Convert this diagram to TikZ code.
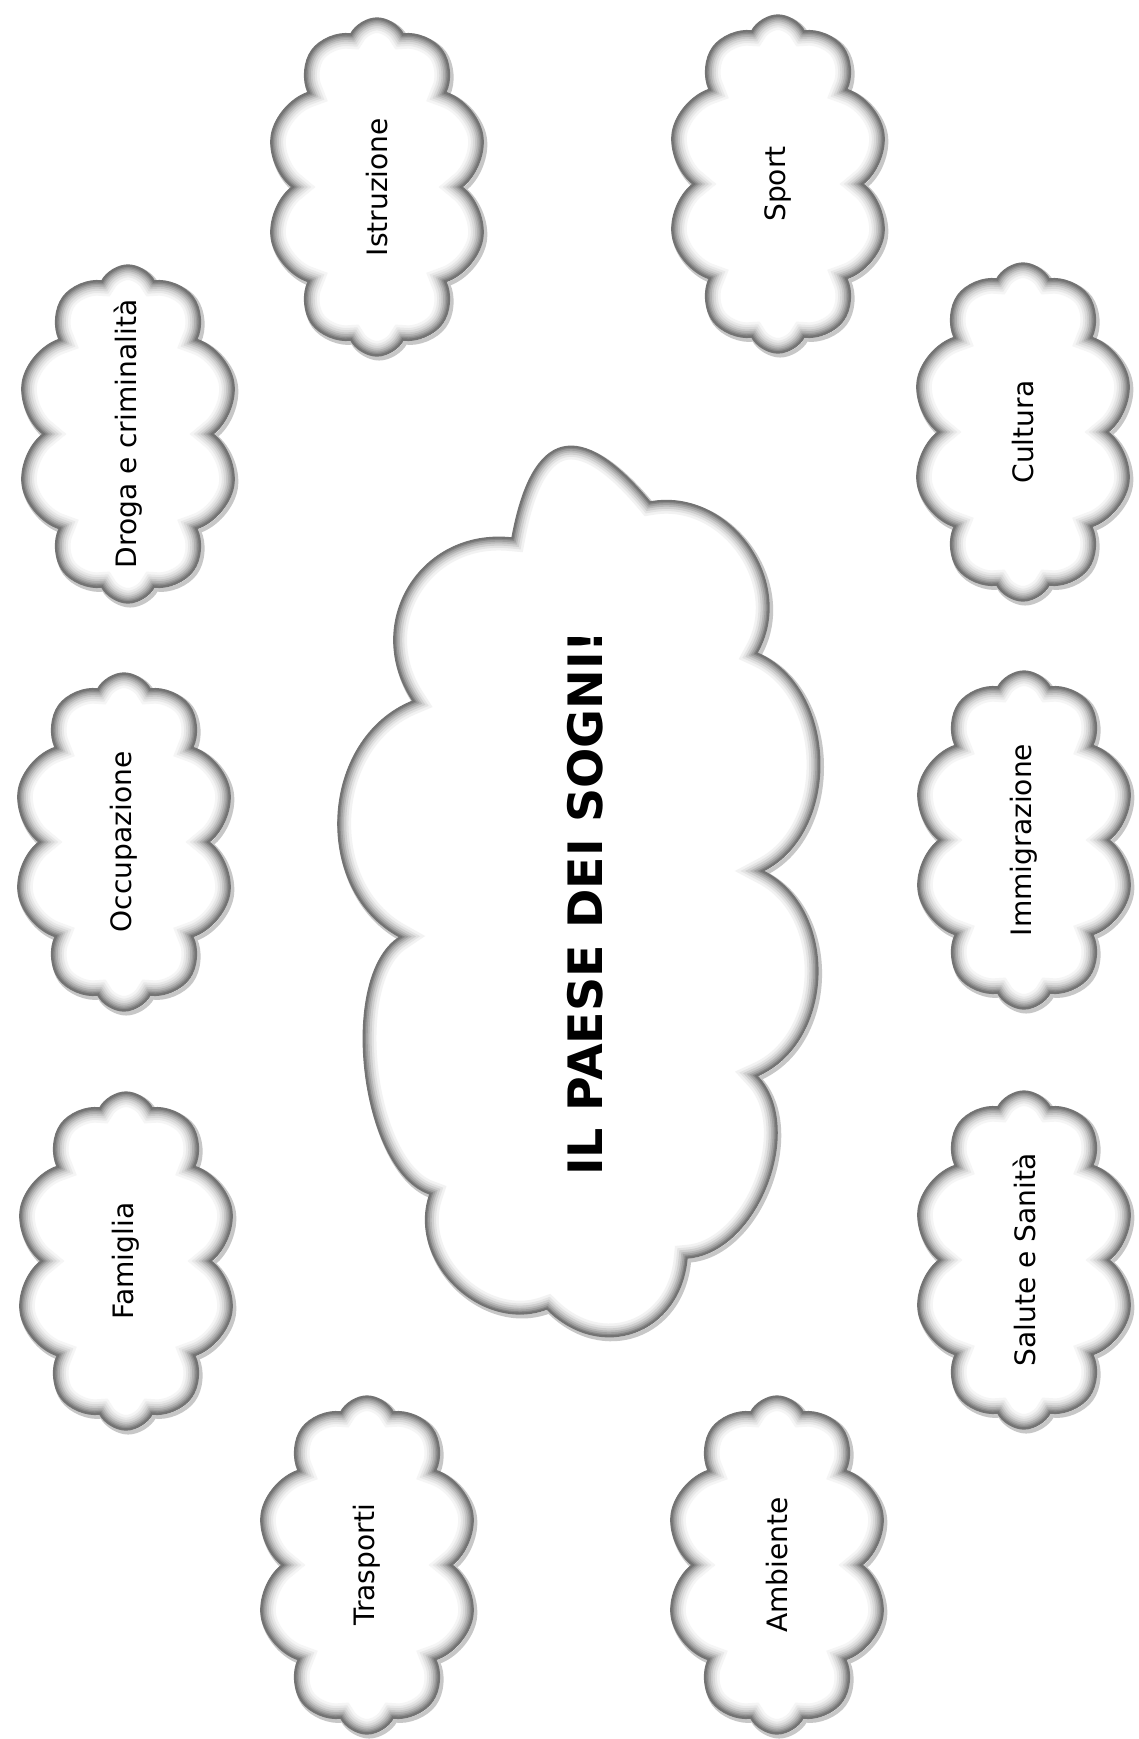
\documentclass[tikz,border=0pt]{standalone}
\usepackage{fontspec}
\setmainfont{DejaVu Sans}
\usetikzlibrary{shapes.symbols}
\tikzset{
  puff/.style={cloud, cloud ignores aspect, inner sep=0pt, outer sep=0pt},
  shade off/.style={draw=black!22, line width=2.4pt, transform canvas={shift={(1.2pt,-1.4pt)}}},
  bubble/.style n args={4}{puff, cloud puffs=#1, cloud puff arc=#2, minimum width=#3, minimum height=#4,
              fill=white, draw=black!55, line width=0.8pt, preaction={shade off},
              path picture={
                \foreach \w/\g in {17/4,14/9,11.5/15,9/22,7/30,5/38,3.5/46,2/54}
                  \node[puff, cloud puffs=#1, cloud puff arc=#2, minimum width=#3, minimum height=#4,
                        draw=black!\g, line width=\w pt] at (path picture bounding box.center) {};
              }},
  small/.style={bubble={10}{125}{4.44cm}{6.76cm}},
  bump/.style={bend left=65, looseness=#1},
  dreamcloud/.style={insert path={(v1) to[bump=1.24] (v2) to[bump=1.98] (v3) to[bump=1.12] (v4)
              to[bump=1.03] (v5) to[bump=1.06] (v6) to[bump=0.93] (v7) to[bump=1.31] (v8)
              to[bump=1.1] (v9) to[bump=0.73] (v10) to[bump=1.09] (v1) -- cycle}},
  lbl/.style={rotate=90, font=\fontsize{16}{19}\selectfont},
  headline/.style={rotate=90, font=\fontsize{27}{32}\selectfont\bfseries},
}
\begin{document}
\begin{tikzpicture}[x=0.02cm, y=-0.02cm]
    \useasboundingbox[fill=white] (0,0) rectangle (1139,1739);
    % big central cloud
    \coordinate (v1) at (413,701);
    \coordinate (v2) at (512,538);
    \coordinate (v3) at (650,502);
    \coordinate (v4) at (757,653);
    \coordinate (v5) at (763,871);
    \coordinate (v6) at (757,1076);
    \coordinate (v7) at (687,1258);
    \coordinate (v8) at (547,1309);
    \coordinate (v9) at (430,1194);
    \coordinate (v10) at (400,937);
    \draw[shade off, dreamcloud];
    \begin{scope}
      \clip[dreamcloud];
      \fill[white, dreamcloud];
      \foreach \w/\g in {15/5,12/11,9.5/19,7/28,5/37,3/47,1.6/55}
        \draw[black!\g, line width=\w pt, dreamcloud];
    \end{scope}
    \draw[black!55, line width=0.8pt, line join=round, dreamcloud];
    \node[headline] (sogni) at (585,903) {IL PAESE DEI SOGNI!};
    % the ten themes
    \node[small] (istr) at (377,187) {};
    \node[lbl] (istr-t) at (istr.center) {Istruzione};
    \node[small] (sport) at (778,184) {};
    \node[lbl] (sport-t) at (sport.center) {Sport};
    \node[small] (droga) at (128,434) {};
    \node[lbl] (droga-t) at (droga.center) {Droga e criminalità};
    \node[small] (cult) at (1023,432) {};
    \node[lbl] (cult-t) at (cult.center) {Cultura};
    \node[small] (occ) at (124,842) {};
    \node[lbl] (occ-t) at (occ.center) {Occupazione};
    \node[small] (immi) at (1024,840) {};
    \node[lbl] (immi-t) at (immi.center) {Immigrazione};
    \node[small] (fam) at (126,1261) {};
    \node[lbl] (fam-t) at (fam.center) {Famiglia};
    \node[small] (salute) at (1024,1260) {};
    \node[lbl] (salute-t) at (salute.center) {Salute e Sanità};
    \node[small] (trasp) at (367,1565) {};
    \node[lbl] (trasp-t) at (trasp.center) {Trasporti};
    \node[small] (amb) at (777,1565) {};
    \node[lbl] (amb-t) at (amb.center) {Ambiente};
\end{tikzpicture}
\end{document}
